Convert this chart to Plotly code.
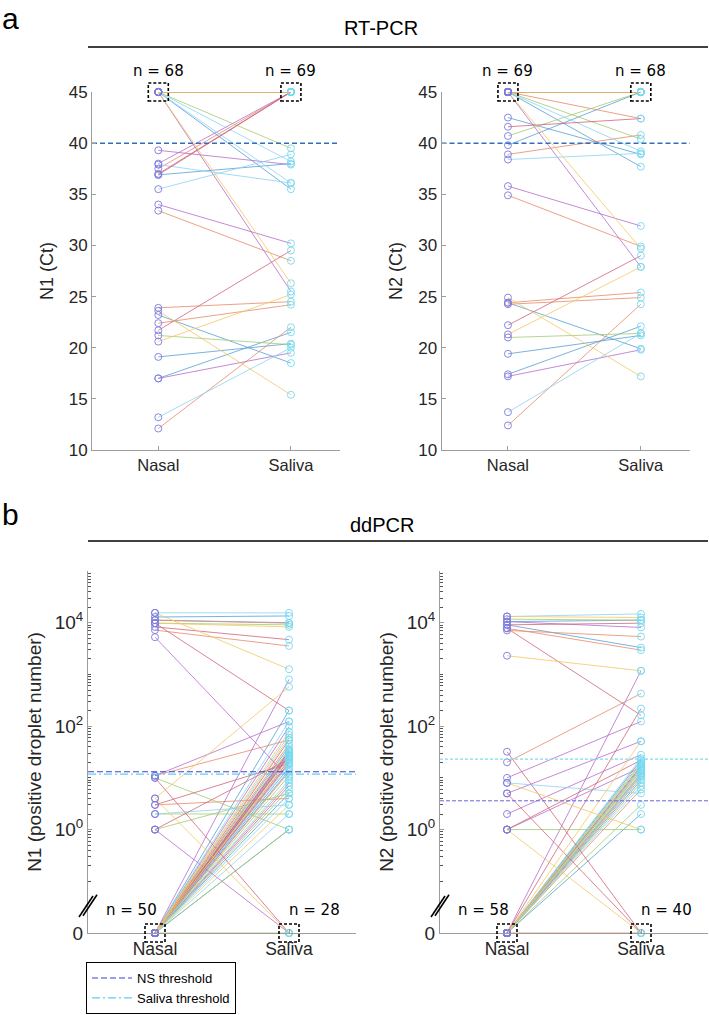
import plotly.graph_objects as go

# ---------------- data ----------------
categories = ["Nasal", "Saliva"]

# (a) RT-PCR Ct values, paired samples (nasal -> saliva); 45 = not detected
rt_n1_nasal = [45, 37.5, 45, 45, 45, 45, 36.9,
               36.9, 33.4, 45, 38.0, 21.2, 45, 37.0,
               23.2, 23.9, 20.6, 39.3, 45, 37.9, 21.7,
               19.1, 22.4, 23.6, 34.0, 45, 35.5, 45,
               17.0, 12.1, 45, 17.0, 45, 13.2, 45]
rt_n1_saliva = [35.5, 45, 45, 25.5, 39.5, 36.1, 45,
                38.0, 28.5, 26.3, 45, 20.3, 38.2, 45,
                18.5, 24.5, 25.2, 37.9, 45, 36.1, 29.5,
                20.4, 24.2, 15.4, 30.2, 45, 38.9, 45,
                21.5, 22.0, 45, 19.5, 45, 20.0, 45]

rt_n2_nasal = [45, 45, 45, 45, 45, 45, 41.6,
               39.8, 38.9, 45, 35.8, 40.7, 38.4, 22.2,
               42.5, 34.9, 21.3, 17.2, 21.0, 13.7, 45,
               24.4, 24.25, 24.9, 45, 45, 45, 45,
               19.4, 12.4, 45, 45, 45, 45, 45,
               17.4, 24.4]
rt_n2_saliva = [37.7, 42.4, 45, 27.9, 40.4, 39.2, 42.4,
                45, 40.8, 29.7, 31.9, 45, 39.0, 29.0,
                38.9, 29.9, 27.9, 19.8, 21.4, 21.4, 45,
                19.9, 24.9, 17.2, 45, 45, 45, 45,
                21.2, 24.25, 45, 45, 45, 45, 45,
                22.1, 25.4]

rt_threshold = 40
rt_n1_counts = ["n = 68", "n = 69"]
rt_n2_counts = ["n = 69", "n = 68"]

# (b) ddPCR positive droplet numbers, paired samples (0 = no positive droplets)
dd_n1_nasal = [12900, 11200, 9800, 5250, 9800, 15500, 9800,
               11200, 7200, 15500, 11, 10, 2, 8300,
               0, 11, 4, 1, 2, 0, 10,
               0, 3, 4, 0, 1, 0, 3,
               0, 0, 0, 0, 0, 0, 1,
               0, 0, 0, 0, 0, 0, 0,
               0, 0, 0, 0, 0, 0, 0,
               0, 0, 0, 0, 0, 0, 0,
               0, 0, 0, 0, 0, 0, 0]
dd_n1_saliva = [13500, 9800, 8300, 10, 9100, 15500, 200,
                10000, 3550, 1260, 123, 1, 3, 4700,
                200, 54, 575, 0, 2, 123, 0,
                32, 4, 0, 800, 5, 68, 19,
                14, 28, 78, 98, 0, 35, 23,
                40, 19, 23, 30, 25, 18, 54,
                5, 8, 3, 7, 11, 4, 27,
                16, 45, 36, 22, 6, 2, 33,
                1, 13, 60, 26, 1, 9, 20]

dd_n2_nasal = [10500, 7100, 13200, 10500, 11700, 13200, 9100,
               9100, 7800, 2300, 10, 1, 8, 7800,
               0, 20, 8, 0, 0, 0, 32,
               0, 0, 1, 5, 0, 0, 5,
               0, 0, 0, 2, 0, 0, 1,
               0, 0, 0, 1, 0, 0, 0,
               0, 0, 0, 0, 0, 0, 0]
dd_n2_saliva = [11200, 5400, 12600, 8100, 11200, 14800, 9800,
                3300, 2950, 1175, 123, 1, 5, 162,
                16, 427, 1, 1175, 15, 19, 0,
                12, 14, 0, 51, 8, 11, 0,
                22, 0, 18, 28, 20, 7, 22,
                9, 10, 51, 16, 3, 24, 219,
                2, 6, 13, 11, 12, 14, 17]

dd_n1_ns_threshold = 13.1
dd_n1_saliva_threshold = 11.8
dd_n2_ns_threshold = 3.6
dd_n2_saliva_threshold = 23
dd_n1_counts = ["n = 50", "n = 28"]
dd_n2_counts = ["n = 58", "n = 40"]

# ---------------- style ----------------
W, H = 709, 1015
# MATLAB-like line colours, lightened (blue, orange, yellow, purple, green, light blue, dark red)
PALETTE = ["#55a0d6", "#e6896a", "#f3c862", "#b56ccc", "#a3ca70", "#8ad3f3", "#d0647a"]
DRAW_ORDER = [0, 1, 3, 4, 5, 6, 2]   # yellow drawn last (on top), as in the reference
NASAL_MARK = "#7a7ae0"
SALIVA_MARK = "#74d9f2"
AX = "#9c9c9c"
TXT = "#262626"
ZERO_AT = 0.01          # display position of "0" on the broken log axis
TOP_XRANGE = [0.5, 2.37]
BOT_XRANGE = [0.5, 2.5]


def px_x(p):
    return p / W


def px_y(p):
    return 1 - p / H


fig = go.Figure()


def add_pairs(nasal, saliva, xa, ya, zero_map=False):
    def m(v):
        return ZERO_AT if (zero_map and v == 0) else v
    for c in DRAW_ORDER:
        xs, ys = [], []
        for i in range(c, len(nasal), len(PALETTE)):
            xs += [1, 2, None]
            ys += [m(nasal[i]), m(saliva[i]), None]
        fig.add_trace(go.Scatter(x=xs, y=ys, mode="lines", xaxis=xa, yaxis=ya,
                                 line=dict(color=PALETTE[c], width=0.8), showlegend=False,
                                 hoverinfo="skip"))
    fig.add_trace(go.Scatter(x=[1] * len(nasal), y=[m(v) for v in nasal], mode="markers",
                             xaxis=xa, yaxis=ya, showlegend=False, cliponaxis=False,
                             marker=dict(symbol="circle-open", size=7, color=NASAL_MARK,
                                         line=dict(width=0.9))))
    fig.add_trace(go.Scatter(x=[2] * len(saliva), y=[m(v) for v in saliva], mode="markers",
                             xaxis=xa, yaxis=ya, showlegend=False, cliponaxis=False,
                             marker=dict(symbol="circle-open", size=7, color=SALIVA_MARK,
                                         line=dict(width=0.9))))


# --- panel a ---
add_pairs(rt_n1_nasal, rt_n1_saliva, "x", "y")
add_pairs(rt_n2_nasal, rt_n2_saliva, "x2", "y2")
for xa, ya in [("x", "y"), ("x2", "y2")]:
    fig.add_trace(go.Scatter(x=TOP_XRANGE, y=[rt_threshold] * 2, mode="lines", xaxis=xa, yaxis=ya,
                             line=dict(color="#2f6fbd", width=1.5, dash="5px,3px"),
                             showlegend=False, hoverinfo="skip"))

# --- panel b ---
add_pairs(dd_n1_nasal, dd_n1_saliva, "x3", "y3", zero_map=True)
add_pairs(dd_n2_nasal, dd_n2_saliva, "x4", "y4", zero_map=True)
fig.add_trace(go.Scatter(x=BOT_XRANGE, y=[dd_n1_ns_threshold] * 2, mode="lines", xaxis="x3", yaxis="y3",
                         line=dict(color="#4040d4", width=1.1, dash="6px,3px"),
                         name="NS threshold", hoverinfo="skip"))
fig.add_trace(go.Scatter(x=BOT_XRANGE, y=[dd_n1_saliva_threshold] * 2, mode="lines", xaxis="x3", yaxis="y3",
                         line=dict(color="#5fd0ee", width=1.1, dash="8px,3px,2px,3px"),
                         name="Saliva threshold", hoverinfo="skip"))
fig.add_trace(go.Scatter(x=BOT_XRANGE, y=[dd_n2_ns_threshold] * 2, mode="lines", xaxis="x4", yaxis="y4",
                         line=dict(color="#6464e4", width=1.0, dash="4px,2px"),
                         showlegend=False, hoverinfo="skip"))
fig.add_trace(go.Scatter(x=BOT_XRANGE, y=[dd_n2_saliva_threshold] * 2, mode="lines", xaxis="x4", yaxis="y4",
                         line=dict(color="#7fdcf2", width=1.1, dash="3px,2px"),
                         showlegend=False, hoverinfo="skip"))

# ---------------- axes ----------------
top_y_dom = [px_y(450), px_y(92)]
bot_y_dom = [px_y(933), px_y(571)]

common_x = dict(tickvals=[1, 2], ticktext=categories, ticks="inside", ticklen=4,
                showline=True, linecolor=AX, tickcolor=AX, showgrid=False, zeroline=False,
                tickfont=dict(color=TXT))
common_y = dict(ticks="inside", ticklen=4, showline=True, linecolor=AX, tickcolor=AX,
                showgrid=False, zeroline=False, tickfont=dict(color=TXT))

fig.update_layout(
    xaxis=dict(domain=[px_x(92), px_x(340)], range=TOP_XRANGE, anchor="y", **common_x),
    xaxis2=dict(domain=[px_x(441.5), px_x(690)], range=TOP_XRANGE, anchor="y2", **common_x),
    xaxis3=dict(domain=[px_x(88), px_x(356)], range=BOT_XRANGE, anchor="y3", **common_x),
    xaxis4=dict(domain=[px_x(440), px_x(708)], range=BOT_XRANGE, anchor="y4", **common_x),
)
for k in ["xaxis", "xaxis2"]:
    fig.layout[k].tickfont.size = 16.5
for k in ["xaxis3", "xaxis4"]:
    fig.layout[k].tickfont.size = 17.5

top_ticks = list(range(10, 50, 5))
for k, ttl, xa in [("yaxis", "N1 (Ct)", "x"), ("yaxis2", "N2 (Ct)", "x2")]:
    fig.layout[k] = dict(domain=top_y_dom, range=[10, 45], anchor=xa, tickvals=top_ticks,
                         title=dict(text=ttl, font=dict(size=18, color=TXT), standoff=10),
                         **common_y)
    fig.layout[k].tickfont.size = 17

major_vals = [ZERO_AT, 1, 100, 10000]
major_text = ["0", "10<sup>0</sup>", "10<sup>2</sup>", "10<sup>4</sup>"]
minor_vals = []
for d in range(-1, 5):
    for k in range(1, 10):
        v = k * 10 ** d
        if v not in major_vals:
            minor_vals.append(v)
minor_vals.append(100000)
for k, ttl, xa in [("yaxis3", "N1 (positive droplet number)", "x3"),
                   ("yaxis4", "N2 (positive droplet number)", "x4")]:
    fig.layout[k] = dict(domain=bot_y_dom, type="log", range=[-2, 5], anchor=xa,
                         tickvals=major_vals, ticktext=major_text,
                         minor=dict(tickvals=minor_vals, ticks="inside", ticklen=2.5, tickcolor="#555555"),
                         title=dict(text=ttl, font=dict(size=19, color=TXT), standoff=8),
                         **common_y)
    fig.layout[k].tickfont.size = 19

# ---------------- shapes ----------------
shapes = []
for y_line in [47, 541]:
    shapes.append(dict(type="line", xref="paper", yref="paper", x0=px_x(88), x1=px_x(708),
                       y0=px_y(y_line), y1=px_y(y_line), line=dict(color="black", width=1.6)))
box = dict(type="rect", xsizemode="pixel", ysizemode="pixel", x0=-10, x1=10, y0=-9, y1=9,
           line=dict(color="black", width=1.6, dash="3px,2px"))
# boxes marking the stacked "not detected" points (top of the Ct axis / bottom of ddPCR axis)
for xa, ya in [("x", "y"), ("x2", "y2")]:
    for xc in [1, 2]:
        shapes.append(dict(box, xref=xa, yref=ya + " domain", xanchor=xc, yanchor=1))
for xa, ya in [("x3", "y3"), ("x4", "y4")]:
    for xc in [1, 2]:
        shapes.append(dict(box, xref=xa, yref=ya + " domain", xanchor=xc, yanchor=0))
    # axis break marks
    for dx in [0, 4]:
        shapes.append(dict(type="line", xref=xa + " domain", yref=ya + " domain",
                           xsizemode="pixel", ysizemode="pixel", xanchor=0, yanchor=(933 - 906) / 362,
                           x0=-9 + dx, x1=5 + dx, y0=-11 + dx * 0.3, y1=10 + dx * 0.3,
                           line=dict(color="black", width=1.6)))
fig.update_layout(shapes=shapes)

# ---------------- annotations ----------------
ann = []
ann.append(dict(text="a", x=0, y=1, xref="paper", yref="paper", xanchor="left", yanchor="top",
                showarrow=False, font=dict(family="Liberation Sans", size=30, color="black")))
ann.append(dict(text="b", x=0, y=px_y(496), xref="paper", yref="paper", xanchor="left", yanchor="top",
                showarrow=False, font=dict(family="Liberation Sans", size=30, color="black")))
ann.append(dict(text="RT-PCR", x=px_x(381), y=px_y(28.5), xref="paper", yref="paper",
                xanchor="center", yanchor="middle", showarrow=False,
                font=dict(size=20, color="black")))
ann.append(dict(text="ddPCR", x=px_x(382), y=px_y(525), xref="paper", yref="paper",
                xanchor="center", yanchor="middle", showarrow=False,
                font=dict(size=20, color="black")))
nfont = dict(family="DejaVu Sans", size=15, color="black")
for xa, ya, labels in [("x", "y", rt_n1_counts), ("x2", "y2", rt_n2_counts)]:
    for xc, lab in zip([1, 2], labels):
        ann.append(dict(text=lab, x=xc, y=45, xref=xa, yref=ya, xanchor="center", yanchor="middle",
                        yshift=21, showarrow=False, font=nfont))
for xa, ya, labels in [("x3", "y3", dd_n1_counts), ("x4", "y4", dd_n2_counts)]:
    ann.append(dict(text=labels[0], x=1, y=0, xref=xa, yref=ya + " domain", xanchor="right",
                    yanchor="middle", xshift=4, yshift=23, showarrow=False, font=nfont))
    ann.append(dict(text=labels[1], x=2, y=0, xref=xa, yref=ya + " domain", xanchor="left",
                    yanchor="middle", xshift=-2, yshift=23, showarrow=False, font=nfont))
fig.update_layout(annotations=ann)

fig.update_layout(
    width=W, height=H, margin=dict(l=0, r=0, t=0, b=0, autoexpand=False),
    paper_bgcolor="white", plot_bgcolor="white",
    font=dict(family="Liberation Sans", color=TXT),
    showlegend=True,
    legend=dict(x=px_x(86), y=0.001, xanchor="left", yanchor="bottom",
                bordercolor="black", borderwidth=1, bgcolor="white",
                font=dict(size=13, color="black"), tracegroupgap=0, itemwidth=40,
                itemclick=False),
)

fig.write_html("out.html", config={"displayModeBar": False},
               post_script="document.body.style.margin='0';document.body.style.overflow='hidden';")
